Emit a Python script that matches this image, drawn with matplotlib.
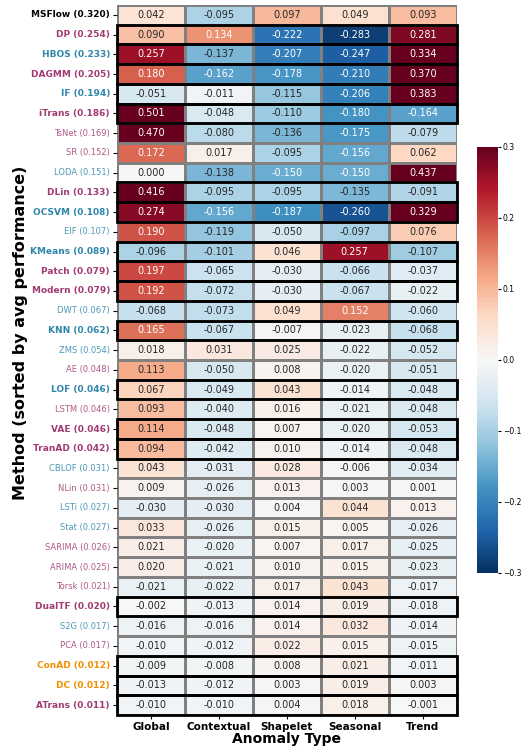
import numpy as np
import matplotlib
matplotlib.use("Agg")
import matplotlib.pyplot as plt
import seaborn as sns
from matplotlib.patches import Rectangle

anomaly_types = ["Global", "Contextual", "Shapelet", "Seasonal", "Trend"]

methods = ["MSFlow", "DP", "HBOS", "DAGMM", "IF", "iTrans", "TsNet", "SR", "LODA",
           "DLin", "OCSVM", "EIF", "KMeans", "Patch", "Modern", "DWT", "KNN", "ZMS",
           "AE", "LOF", "LSTM", "VAE", "TranAD", "CBLOF", "NLin", "LSTi", "Stat",
           "SARIMA", "ARIMA", "Torsk", "DualTF", "S2G", "PCA", "ConAD", "DC", "ATrans"]
avg_perf = [0.320, 0.254, 0.233, 0.205, 0.194, 0.186, 0.169, 0.152, 0.151,
            0.133, 0.108, 0.107, 0.089, 0.079, 0.079, 0.067, 0.062, 0.054,
            0.048, 0.046, 0.046, 0.046, 0.042, 0.031, 0.031, 0.027, 0.027,
            0.026, 0.025, 0.021, 0.020, 0.017, 0.017, 0.012, 0.012, 0.011]
# k = black, p = purple, b = blue, o = orange
groups = ["k", "p", "b", "p", "b", "p", "p", "p", "b",
          "p", "b", "b", "b", "p", "p", "b", "b", "b",
          "p", "b", "p", "p", "p", "b", "p", "b", "b",
          "p", "p", "p", "p", "b", "p", "o", "o", "p"]
highlight = ["DP", "HBOS", "DAGMM", "IF", "iTrans", "DLin", "OCSVM", "KMeans",
             "Patch", "Modern", "KNN", "LOF", "VAE", "TranAD", "DualTF",
             "ConAD", "DC", "ATrans"]

values = np.array([
    [0.042, -0.095, 0.097, 0.049, 0.093],
    [0.090, 0.134, -0.222, -0.283, 0.281],
    [0.257, -0.137, -0.207, -0.247, 0.334],
    [0.180, -0.162, -0.178, -0.210, 0.370],
    [-0.051, -0.011, -0.115, -0.206, 0.383],
    [0.501, -0.048, -0.110, -0.180, -0.164],
    [0.470, -0.080, -0.136, -0.175, -0.079],
    [0.172, 0.017, -0.095, -0.156, 0.062],
    [0.000, -0.138, -0.150, -0.150, 0.437],
    [0.416, -0.095, -0.095, -0.135, -0.091],
    [0.274, -0.156, -0.187, -0.260, 0.329],
    [0.190, -0.119, -0.050, -0.097, 0.076],
    [-0.096, -0.101, 0.046, 0.257, -0.107],
    [0.197, -0.065, -0.030, -0.066, -0.037],
    [0.192, -0.072, -0.030, -0.067, -0.022],
    [-0.068, -0.073, 0.049, 0.152, -0.060],
    [0.165, -0.067, -0.007, -0.023, -0.068],
    [0.018, 0.031, 0.025, -0.022, -0.052],
    [0.113, -0.050, 0.008, -0.020, -0.051],
    [0.067, -0.049, 0.043, -0.014, -0.048],
    [0.093, -0.040, 0.016, -0.021, -0.048],
    [0.114, -0.048, 0.007, -0.020, -0.053],
    [0.094, -0.042, 0.010, -0.014, -0.048],
    [0.043, -0.031, 0.028, -0.006, -0.034],
    [0.009, -0.026, 0.013, 0.003, 0.001],
    [-0.030, -0.030, 0.004, 0.044, 0.013],
    [0.033, -0.026, 0.015, 0.005, -0.026],
    [0.021, -0.020, 0.007, 0.017, -0.025],
    [0.020, -0.021, 0.010, 0.015, -0.023],
    [-0.021, -0.022, 0.017, 0.043, -0.017],
    [-0.002, -0.013, 0.014, 0.019, -0.018],
    [-0.016, -0.016, 0.014, 0.032, -0.014],
    [-0.010, -0.012, 0.022, 0.015, -0.015],
    [-0.009, -0.008, 0.008, 0.021, -0.011],
    [-0.013, -0.012, 0.003, 0.019, 0.003],
    [-0.010, -0.010, 0.004, 0.018, -0.001],
])

group_colors = {"k": "black", "p": "#A23B72", "b": "#2E86AB", "o": "#F18F01"}

fig = plt.figure(figsize=(5.22, 7.46), dpi=100)
ax = fig.add_axes([0.224, 0.0416, 0.651, 0.9517])
cax = fig.add_axes([0.914, 0.232, 0.040, 0.571])

labels = [f"{m} ({a:.3f})" for m, a in zip(methods, avg_perf)]
sns.heatmap(values, ax=ax, cbar_ax=cax, cmap="RdBu_r", center=0, vmin=-0.3, vmax=0.3,
            annot=True, fmt=".3f", annot_kws={"size": 7},
            linewidths=0.8, linecolor="gray",
            xticklabels=anomaly_types, yticklabels=labels)

ax.set_xticklabels(anomaly_types, fontsize=7.5, fontweight="bold", rotation=0)
ax.set_yticklabels(labels, rotation=0)
for lab, m, g in zip(ax.get_yticklabels(), methods, groups):
    lab.set_color(group_colors[g])
    if m in highlight or g == "k":
        lab.set_fontweight("bold")
        lab.set_fontsize(6.5)
    else:
        lab.set_fontsize(6)
        lab.set_alpha(0.85)

# boxes around the highlighted methods
for i, m in enumerate(methods):
    if m in highlight:
        ax.add_patch(Rectangle((0, i), len(anomaly_types), 1, fill=False,
                               edgecolor="black", lw=2, clip_on=False))

ax.set_xlabel("Anomaly Type", fontsize=10, fontweight="bold", labelpad=0)
ax.set_ylabel("Method (sorted by avg performance)", fontsize=11.5, fontweight="bold")
ax.yaxis.set_label_coords(-0.262, 0.538)
ax.tick_params(axis="both", length=3, pad=2)

cax.tick_params(labelsize=5.5, length=2, pad=1.5)
cax.set_yticks([-0.3, -0.2, -0.1, 0.0, 0.1, 0.2, 0.3])

fig.savefig("out.png", dpi=100)
